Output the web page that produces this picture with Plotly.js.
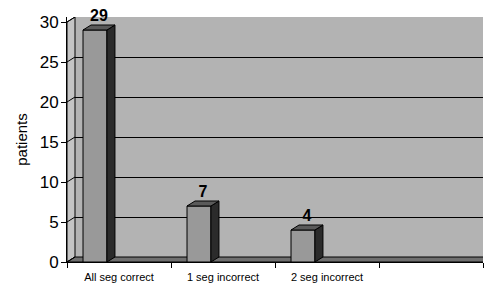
<!DOCTYPE html>
<html><head><meta charset="utf-8">
<script src="https://cdn.plot.ly/plotly-3.0.1.min.js"></script>
<style>html,body{margin:0;padding:0;background:#fff}#chart{width:484px;height:283px}</style>
</head><body><div id="chart"></div>
<script>
// ---- data ----
const categories = ['All seg correct', '1 seg incorrect', '2 seg incorrect', ''];
const patients = [29, 7, 4];
const yTicks = [0, 5, 10, 15, 20, 25, 30];
const yTitle = 'patients';

// ---- 3D look parameters ----
const DX = 8 / 104;   // depth in category units
const DY = 0.625;     // depth in value units
const BAR_OFF = -0.346, BAR_W = 0.23;
const cFront = '#999999', cSide = '#2b2b2b', cTop = '#5a5a5a';

const xc = patients.map((v, i) => i + 0.5);
const traces = [];

// left-wall diagonal grid lines
const gx = [], gy = [];
yTicks.forEach(t => { gx.push(0, DX, null); gy.push(t, t + DY, null); });
traces.push({type:'scatter', mode:'lines', x:gx, y:gy, xaxis:'x', yaxis:'y2',
  line:{color:'#000', width:1}, hoverinfo:'skip', showlegend:false});

// bar front faces
traces.push({type:'bar', x:xc, y:patients, offset:BAR_OFF, width:BAR_W,
  xaxis:'x', yaxis:'y2', marker:{color:cFront, line:{color:'#000', width:1}},
  showlegend:false, hoverinfo:'skip'});

// side and top faces
patients.forEach((v, i) => {
  const x0 = xc[i] + BAR_OFF, x1 = x0 + BAR_W;
  traces.push({type:'scatter', mode:'lines', fill:'toself', fillcolor:cSide,
    x:[x1, x1 + DX, x1 + DX, x1, x1], y:[0, DY, v + DY, v, 0],
    xaxis:'x', yaxis:'y2', line:{color:'#000', width:1}, hoverinfo:'skip', showlegend:false});
  traces.push({type:'scatter', mode:'lines', fill:'toself', fillcolor:cTop,
    x:[x0, x0 + DX, x1 + DX, x1, x0], y:[v, v + DY, v + DY, v, v],
    xaxis:'x', yaxis:'y2', line:{color:'#000', width:1}, hoverinfo:'skip', showlegend:false});
});

// value labels
traces.push({type:'scatter', mode:'text',
  x:xc.map(c => c + BAR_OFF + BAR_W / 2 + DX / 2), y:patients.map(v => v + DY),
  text:patients.map(String), textposition:'top center',
  textfont:{family:'Liberation Sans, Arial, sans-serif', size:16, color:'#000', weight:'bold'},
  xaxis:'x', yaxis:'y2', hoverinfo:'skip', showlegend:false, cliponaxis:false});

// carrier for the tick-mark axis
traces.push({type:'scatter', mode:'markers', x:[0], y:[0], xaxis:'x2', yaxis:'y2',
  marker:{opacity:0}, hoverinfo:'skip', showlegend:false});
// carrier for the main (back-plane grid) subplot
traces.push({type:'scatter', mode:'markers', x:[0], y:[0], xaxis:'x', yaxis:'y',
  marker:{opacity:0}, hoverinfo:'skip', showlegend:false});

const yMax = yTicks[yTicks.length - 1];
const yTop = yMax + DY;
const layout = {
  width:484, height:283,
  margin:{l:67, r:1, t:17, b:21},
  paper_bgcolor:'#fff', plot_bgcolor:'#fff',
  showlegend:false,
  font:{family:'Liberation Sans, Arial, sans-serif', color:'#000'},
  xaxis:{range:[0, 4], tickvals:categories.map((c, i) => i + 0.5), ticktext:categories,
    ticks:'', showgrid:false, zeroline:false, showline:true, linecolor:'#000', linewidth:1,
    tickfont:{size:11, color:'#000'}, ticklabelstandoff:5, fixedrange:true},
  xaxis2:{overlaying:'x', range:[0, 4], tickvals:categories.map((c, i) => i).concat([categories.length]),
    ticks:'outside', ticklen:5, tickcolor:'#000', tickwidth:1, showticklabels:false,
    showgrid:false, zeroline:false, showline:false, anchor:'y2', side:'bottom'},
  yaxis:{range:[-DY, yMax], tickvals:yTicks, showticklabels:false, ticks:'',
    showgrid:true, gridcolor:'#000', gridwidth:1, zeroline:false, showline:false},
  yaxis2:{overlaying:'y', side:'left', range:[0, yTop], tickvals:yTicks,
    ticks:'outside', ticklen:5, tickcolor:'#000', showgrid:false, zeroline:false,
    showline:true, linecolor:'#000', linewidth:1,
    tickfont:{size:17, color:'#000'}, ticklabelstandoff:-1,
    title:{text:yTitle, font:{size:15, color:'#000'}, standoff:8}},
  shapes:[
    // back wall (back-plane coordinates on x / y)
    {type:'rect', xref:'x', yref:'y', x0:DX, x1:4 + DX, y0:0, y1:yMax, layer:'below',
      fillcolor:'#b3b3b3', line:{width:0}},
    // left wall
    {type:'path', xref:'x', yref:'y', layer:'between',
      path:`M0,${-DY} L${DX},0 L${DX},${yMax} L0,${yMax - DY} Z`,
      fillcolor:'#c4c4c4', line:{color:'#000', width:1}},
    // floor
    {type:'path', xref:'x', yref:'y', layer:'between',
      path:`M0,${-DY} L${DX},0 L${4 + DX},0 L${4 + DX},${-DY} Z`,
      fillcolor:'#6f6f6f', line:{color:'#000', width:1}}
  ]
};
Plotly.newPlot('chart', traces, layout, {displayModeBar:false, staticPlot:true});
</script></body></html>
